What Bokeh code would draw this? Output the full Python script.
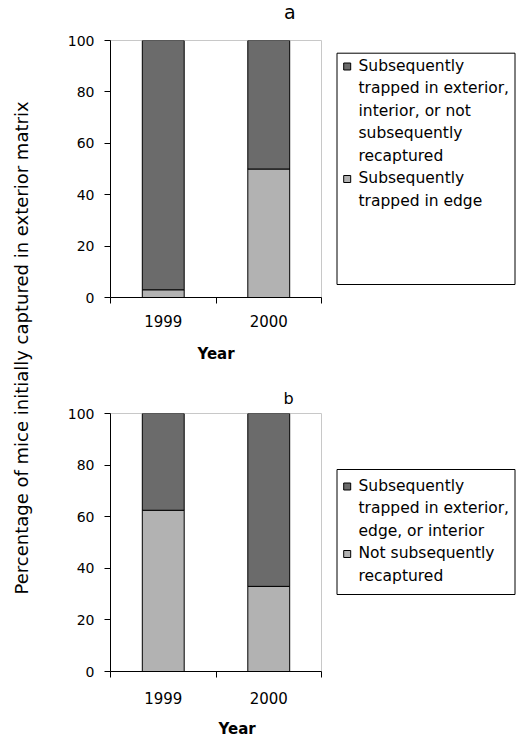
import math
from bokeh.plotting import figure
from bokeh.models import Range1d, FixedTicker, ColumnDataSource, Title
from bokeh.layouts import row, column
from bokeh.embed import file_html
from bokeh.resources import INLINE
from bokeh.core.properties import value

# ---------------- data ----------------
years = ["1999", "2000"]
a_light = [3, 50]      # Subsequently trapped in edge
a_dark = [97, 50]      # Subsequently trapped in exterior, interior, or not recaptured
b_light = [62.5, 33]   # Not subsequently recaptured
b_dark = [37.5, 67]    # Subsequently trapped in exterior, edge, or interior
y_ticks = [0, 20, 40, 60, 80, 100]
legend_a = [["Subsequently", "trapped in exterior,", "interior, or not",
             "subsequently", "recaptured"],
            ["Subsequently", "trapped in edge"]]
legend_b = [["Subsequently", "trapped in exterior,", "edge, or interior"],
            ["Not subsequently", "recaptured"]]
panel_letters = ["a", "b"]
y_title = "Percentage of mice initially captured in exterior matrix"
x_title = "Year"

DARK = "#6b6b6b"
LIGHT = "#b2b2b2"
FONT = "DejaVu Sans"


def blank(width, height):
    p = figure(width=width, height=height, x_range=Range1d(0, width), y_range=Range1d(0, height),
               toolbar_location=None, output_backend="svg", min_border=0,
               x_axis_location=None, y_axis_location=None)
    p.outline_line_color = None
    p.xgrid.visible = False
    p.ygrid.visible = False
    return p


def text_strip(txt, height, cx, y_from_top, size, style="normal"):
    p = blank(280, height)
    p.text(x=[cx], y=[height - y_from_top], text=[txt], text_font=value(FONT),
           text_font_size=value(size), text_font_style=style, text_align="center",
           text_baseline="middle", text_color="black")
    return p


def make_panel(light, dark, height, top, bottom, lab_standoff, title_standoff=None):
    p = figure(width=280, height=height,
               x_range=Range1d(0, len(years)), y_range=Range1d(0, 100),
               toolbar_location=None, output_backend="svg",
               min_border_left=62, min_border_right=7,
               min_border_top=top, min_border_bottom=bottom)
    src = ColumnDataSource(dict(x=[i + 0.5 for i in range(len(years))],
                                light=light, dark=dark))
    p.vbar_stack(["light", "dark"], x="x", width=0.397, source=src,
                 fill_color=[LIGHT, DARK], line_color="black", line_width=1)
    p.xgrid.visible = False
    p.ygrid.visible = False
    p.outline_line_color = "#c8c8c8"

    xa = p.xaxis[0]
    xa.ticker = FixedTicker(ticks=[i + 0.5 for i in range(len(years))],
                            minor_ticks=list(range(len(years) + 1)))
    xa.major_label_overrides = {i + 0.5: y for i, y in enumerate(years)}
    xa.major_tick_out = 0
    xa.major_tick_in = 0
    xa.minor_tick_out = 6
    xa.minor_tick_in = 0
    xa.minor_tick_line_color = "black"
    xa.axis_line_color = "black"
    xa.major_label_text_font = FONT
    xa.major_label_text_font_size = "15px"
    xa.major_label_text_color = "black"
    xa.major_label_standoff = lab_standoff
    if title_standoff is not None:
        xa.axis_label = x_title
        xa.axis_label_text_font = FONT
        xa.axis_label_text_font_size = "15px"
        xa.axis_label_text_font_style = "bold"
        xa.axis_label_text_color = "black"
        xa.axis_label_standoff = title_standoff

    ya = p.yaxis[0]
    ya.ticker = FixedTicker(ticks=y_ticks)
    ya.major_tick_out = 6
    ya.major_tick_in = 0
    ya.minor_tick_out = 0
    ya.minor_tick_in = 0
    ya.major_tick_line_color = "black"
    ya.axis_line_color = "black"
    ya.major_label_text_font = FONT
    ya.major_label_text_font_size = "14px"
    ya.major_label_text_color = "black"
    ya.major_label_standoff = 10
    return p


def make_legend(items, height, box_top, box_bottom, first_y, colors):
    W = 192
    p = blank(W, height)
    p.quad(left=[8.5], right=[186.5], top=[height - box_top], bottom=[height - box_bottom],
           fill_color=None, line_color="black", line_width=1)
    xs, ys, txt, mx, my = [], [], [], [], []
    k = 0
    for lines in items:
        mx.append(18.7)
        my.append(height - (first_y + 22.5 * k) - 1)
        for ln in lines:
            xs.append(30)
            ys.append(height - (first_y + 22.5 * k))
            txt.append(ln)
            k += 1
    p.scatter(x=mx, y=my, marker="square", size=7, fill_color=colors, line_color="black")
    p.text(x=xs, y=ys, text=txt, text_font=value(FONT), text_font_size=value("15.5px"),
           text_baseline="middle", text_align="left", text_color="black")
    return p


sa = text_strip(panel_letters[0], 30, 238, 11, "19px")
fa = make_panel(a_light, a_dark, 348, 10, 81, 11, 15)
fb = make_panel(b_light, b_dark, 329, 35, 36, 14)
fb.add_layout(Title(text=panel_letters[1], align="left", offset=173, text_font=FONT,
                    text_font_size="16px", text_font_style="normal", text_color="black",
                    standoff=11), "above")
yb = text_strip(x_title, 29, 168, 21, "15px", style="bold")

la = make_legend(legend_a, 378, 52.7, 284, 65, [DARK, LIGHT])
lb = make_legend(legend_b, 358, 91, 216, 107, [DARK, LIGHT])

yl = blank(48, 736)
yl.text(x=[20.5], y=[736 - 347.5], text=[y_title], angle=math.pi / 2,
        text_align="center", text_baseline="middle", text_font=value(FONT),
        text_font_size=value("18px"), text_color="black")

layout = row(yl, column(sa, fa, fb, yb), column(la, lb))

open("out.html", "w").write(file_html(layout, INLINE))
